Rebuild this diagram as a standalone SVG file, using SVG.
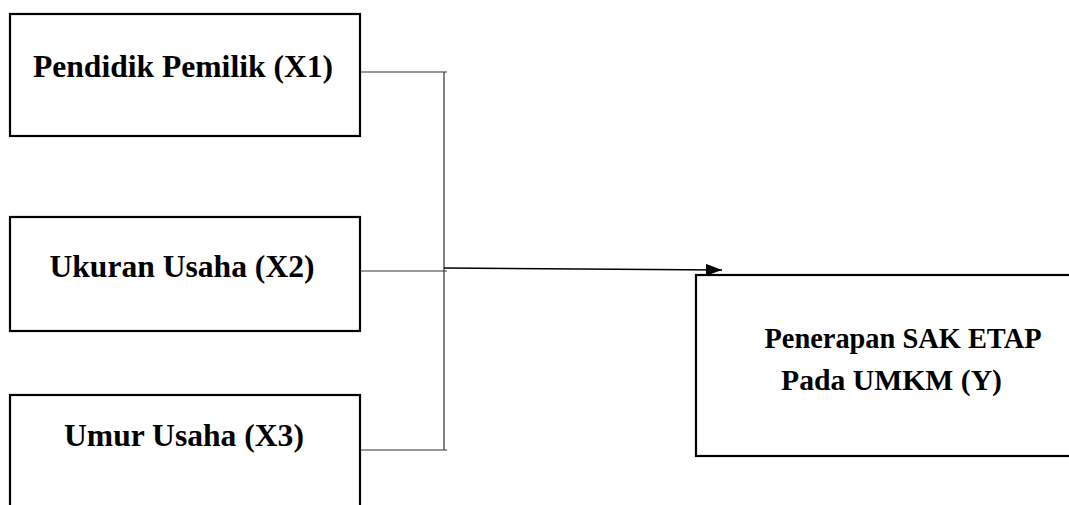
<svg xmlns="http://www.w3.org/2000/svg" width="1069" height="505" viewBox="0 0 1069 505">
<style>
.box{fill:#fff;stroke:#000;stroke-width:2.2}
.lbl{font-family:"Liberation Serif","Times New Roman",serif;font-weight:bold;font-size:31.6px;fill:#000;text-anchor:middle}
.conn{stroke:#333;stroke-width:1.2;fill:none}
</style>
<defs>
<marker id="arr" markerWidth="16" markerHeight="12" refX="16" refY="6" orient="auto" markerUnits="userSpaceOnUse">
<path d="M0,0 L16,6 L0,12 Z" fill="#000"/>
</marker>
</defs>
<rect width="1069" height="505" fill="#fff"/>
<g id="x1">
<rect class="box" x="10" y="14" width="350" height="122"/>
<text class="lbl" x="183" y="77">Pendidik Pemilik (X1)</text>
</g>
<g id="x2">
<rect class="box" x="10" y="217" width="350" height="114"/>
<text class="lbl" x="182" y="277">Ukuran Usaha (X2)</text>
</g>
<g id="x3">
<rect class="box" x="10" y="395" width="350" height="130"/>
<text class="lbl" x="184" y="446">Umur Usaha (X3)</text>
</g>
<g id="y">
<rect class="box" x="696" y="275" width="400" height="181"/>
<text class="lbl" x="903" y="348" style="font-size:28.4px">Penerapan SAK ETAP</text>
<text class="lbl" x="891.5" y="390" style="font-size:29.7px">Pada UMKM (Y)</text>
</g>
<g id="connectors">
<path class="conn" d="M361,72 H447 M361,271 H447 M361,450 H447 M444,72 V450"/>
<path d="M444,268 L722,270" stroke="#000" stroke-width="1.5" fill="none" marker-end="url(#arr)"/>
</g>
</svg>
